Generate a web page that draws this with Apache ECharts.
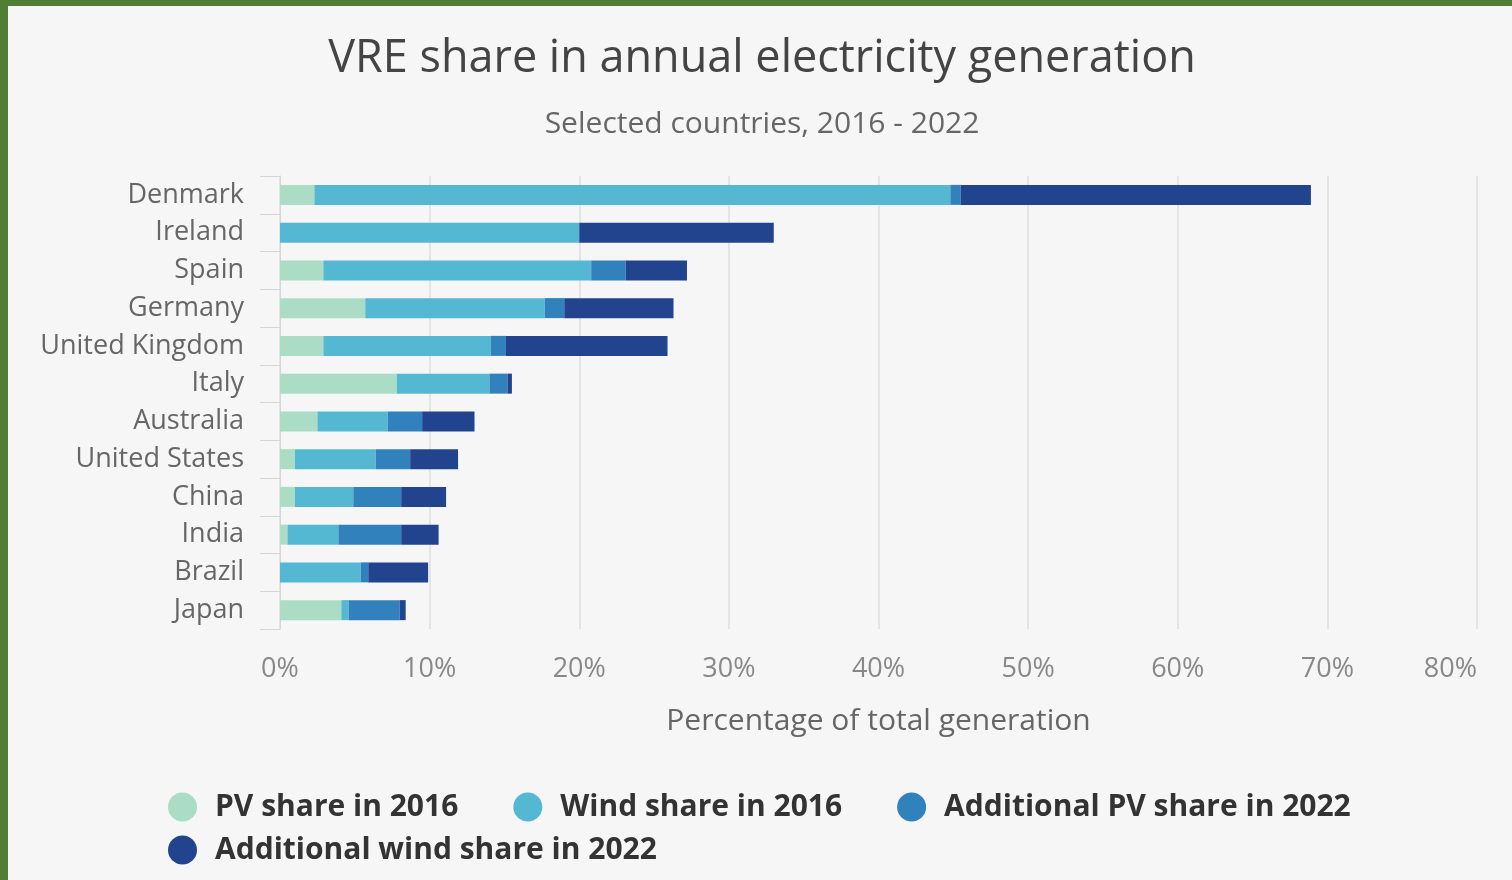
<!DOCTYPE html>
<html>
<head>
<meta charset="utf-8">
<script src="https://cdn.jsdelivr.net/npm/echarts@6/dist/echarts.min.js"></script>
<style>
html,body{margin:0;padding:0;background:#f6f6f6;}
#chart{position:absolute;left:0;top:0;width:1512px;height:880px;}
#bt{position:absolute;left:0;top:0;width:1512px;height:6px;background:#517e35;}
#bl{position:absolute;left:0;top:0;width:8px;height:880px;background:#517e35;}
</style>
</head>
<body>
<div id="chart"></div>
<div id="bt"></div>
<div id="bl"></div>
<script>
const countries = ["Denmark","Ireland","Spain","Germany","United Kingdom","Italy","Australia","United States","China","India","Brazil","Japan"];
const pv2016 =      [2.3, 0.0, 2.9, 5.7, 2.9, 7.8, 2.5, 1.0, 1.0, 0.5, 0.0, 4.1];
const wind2016 =    [42.5, 20.0, 17.9, 12.0, 11.2, 6.2, 4.7, 5.4, 3.9, 3.4, 5.4, 0.5];
const addPv2022 =   [0.7, 0.0, 2.3, 1.3, 1.0, 1.2, 2.3, 2.3, 3.2, 4.2, 0.5, 3.4];
const addWind2022 = [23.4, 13.0, 4.1, 7.3, 10.8, 0.3, 3.5, 3.2, 3.0, 2.5, 4.0, 0.4];
const seriesNames = ["PV share in 2016","Wind share in 2016","Additional PV share in 2022","Additional wind share in 2022"];
const colors = ["#aadcc6","#55b8d3","#3181bd","#22448f"];
const xTicks = [0,10,20,30,40,50,60,70,80];

const chart = echarts.init(document.getElementById('chart'));
const dataSets = [pv2016, wind2016, addPv2022, addWind2022];
const legendText = {fontFamily:'Open Sans',fontSize:30,fontWeight:'bold',color:'#333'};
chart.setOption({
  backgroundColor:'#f6f6f6',
  title:[
    {text:'VRE share in annual electricity generation',left:757,top:32,textAlign:'center',
     textStyle:{fontFamily:'Open Sans',fontSize:45,fontWeight:'normal',color:'#444'}},
    {text:'Selected countries, 2016 - 2022',left:757,top:104,textAlign:'center',
     textStyle:{fontFamily:'Open Sans',fontSize:30,fontWeight:'normal',color:'#666'}}
  ],
  legend:[
    {data:seriesNames.slice(0,3),left:163,top:787,orient:'horizontal',icon:'circle',
     itemWidth:55,itemHeight:29,itemGap:55,textStyle:legendText},
    {data:seriesNames.slice(3),left:163,top:830,orient:'horizontal',icon:'circle',
     itemWidth:55,itemHeight:29,itemGap:55,textStyle:legendText}
  ],
  grid:{left:280,right:35,top:176,bottom:251,containLabel:false},
  xAxis:{type:'value',min:0,max:80,interval:10,
    axisLine:{show:false},axisTick:{show:false},
    splitLine:{lineStyle:{color:'#e4e4e4',width:2}},
    axisLabel:{formatter:v=>v+'%',fontFamily:'Open Sans',fontSize:27,color:'#888',margin:27,alignMaxLabel:'right'},
    name:'Percentage of total generation',nameLocation:'middle',nameGap:77,
    nameTextStyle:{fontFamily:'Open Sans',fontSize:30,color:'#666'}
  },
  yAxis:{type:'category',data:countries,inverse:true,
    axisLine:{show:true,lineStyle:{color:'#d6d6d6',width:1}},
    axisTick:{show:true,length:20,lineStyle:{color:'#d6d6d6'}},
    axisLabel:{fontFamily:'Open Sans',fontSize:27,color:'#666',margin:36,padding:[4,0,0,0]}
  },
  series:seriesNames.map((n,i)=>({
    name:n,type:'bar',stack:'total',barWidth:20,
    itemStyle:{color:colors[i]},
    data:dataSets[i]
  }))
});
</script>
</body>
</html>
